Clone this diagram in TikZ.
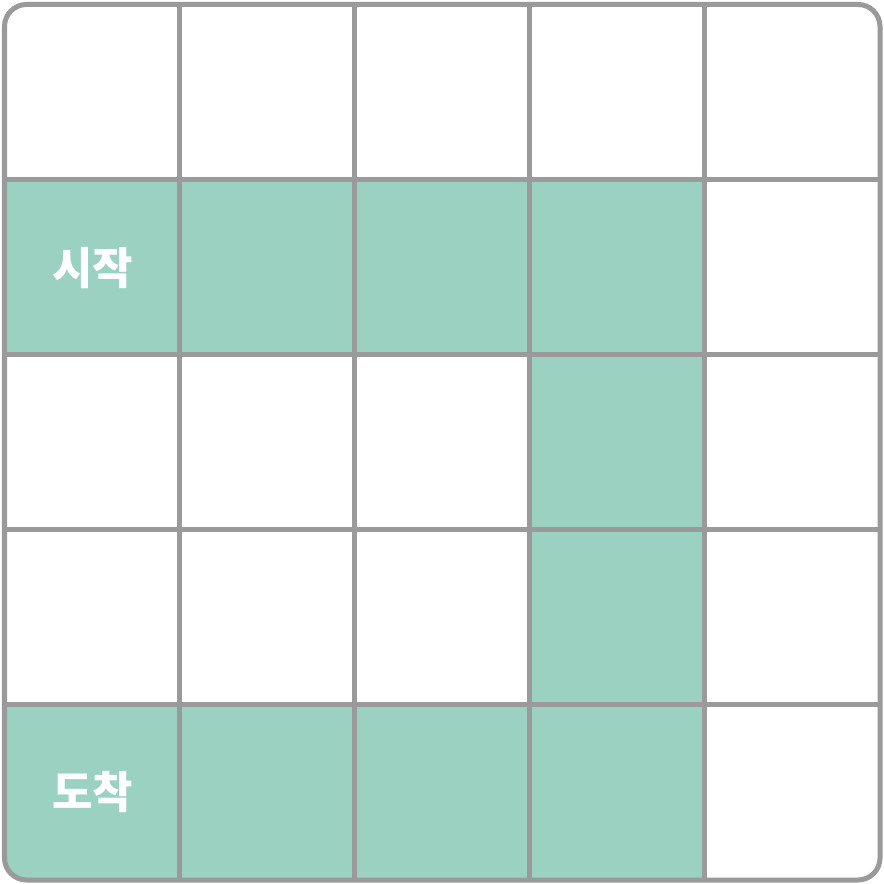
\documentclass[tikz,border=0pt]{standalone}
\usepackage{fontspec}
\newfontfamily\cjk{Noto Sans CJK KR}
\usepackage{tikz}
\usetikzlibrary{positioning, calc}
\definecolor{gridgray}{HTML}{9A9A9A}
\definecolor{pathgreen}{HTML}{9BD1C0}

\begin{document}
\begin{tikzpicture}[
    cellfill/.style={fill=pathgreen, draw=none},
    gridline/.style={gridgray, line width=0.05cm},
    label/.style={text=white, font=\cjk\bfseries\fontsize{12.5}{14}\selectfont}
]
\useasboundingbox (0,0) rectangle (8.84,8.84);

% Origin point of the 5x5 board (bottom left corner)
\coordinate (origin) at (0.045,0.04);
\coordinate (board_top) at (8.80,8.795);

% Path cells, clipped to the rounded board
\begin{scope}
  \clip[rounded corners=0.22cm] (origin) rectangle (board_top);
  \fill[white] (origin) rectangle (board_top);
  \foreach \r/\c in {1/0,1/1,1/2,1/3,2/3,3/3,4/0,4/1,4/2,4/3} {
    \fill[cellfill] ($(origin)+(1.751*\c,8.755-1.751*\r)$) rectangle ++(1.751,-1.751);
  }
\end{scope}

% Inner grid lines
\foreach \i in {1,2,3,4} {
  \draw[gridline] ($(origin)+(1.751*\i,0)$) -- ++(0,8.755);
  \draw[gridline] ($(origin)+(0,1.751*\i)$) -- ++(8.755,0);
}

% Board border
\draw[gridline, rounded corners=0.22cm] (origin) rectangle (board_top);

% Start and goal labels
\node[label] (start) at ($(origin)+(0.88,7.004-0.88)$) {시작};
\node[label] (goal) at ($(origin)+(0.88,0.88)$) {도착};

\end{tikzpicture}
\end{document}
